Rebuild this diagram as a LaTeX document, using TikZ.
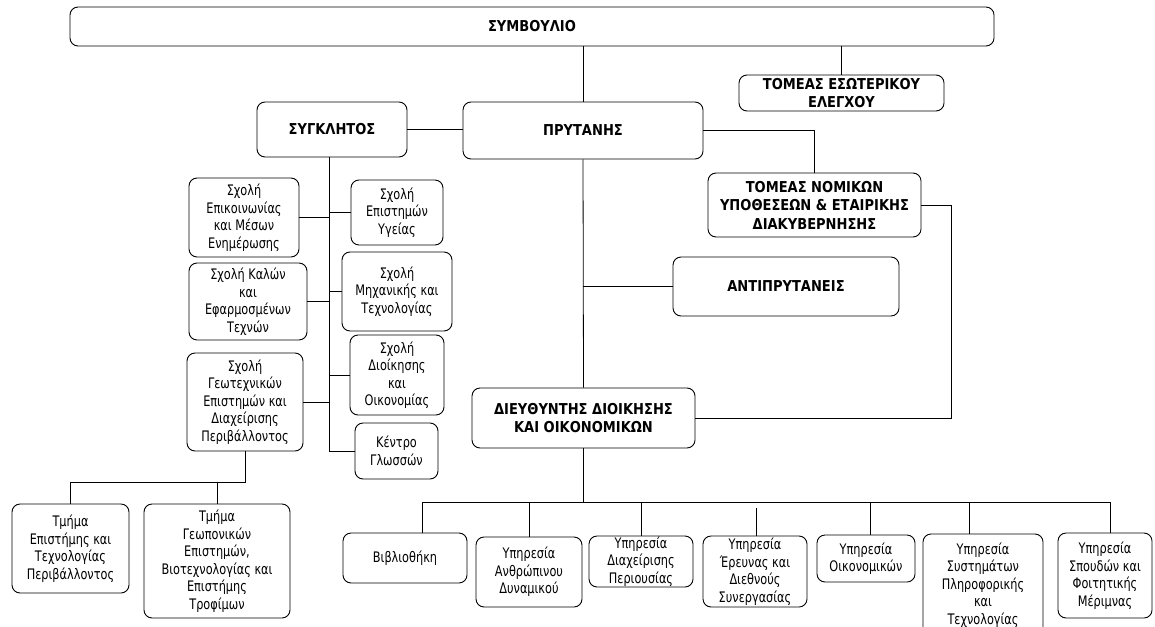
\documentclass[tikz,border=0pt]{standalone}
\usepackage{fontspec}
\setmainfont{DejaVu Sans}[FakeStretch=0.78]
\newfontfamily\hdfont{DejaVu Sans}[FakeStretch=0.87]
\begin{document}
\begin{tikzpicture}[x=1pt,y=-1pt,
  box/.style={draw=black,line width=0.9pt,rounded corners=8pt,inner sep=0pt,align=center,
    font=\fontsize{14.5}{17.5}\selectfont},
  bbox/.style={box,font=\hdfont\fontsize{15}{18.5}\selectfont\bfseries},
  conn/.style={draw=black,line width=0.8pt}]
\useasboundingbox[fill=white] (0,0) rectangle (1155,626);
% top level
\node[bbox,minimum width=924pt,minimum height=39pt] (sym) at (532,26.5) {ΣΥΜΒΟΥΛΙΟ};
\node[bbox,minimum width=205pt,minimum height=36pt] (esot) at (841.5,93) {ΤΟΜΕΑΣ ΕΣΩΤΕΡΙΚΟΥ\\ΕΛΕΓΧΟΥ};
\node[bbox,minimum width=150pt,minimum height=55pt] (synk) at (332,129.5) {ΣΥΓΚΛΗΤΟΣ};
\node[bbox,minimum width=240pt,minimum height=57pt] (pryt) at (583,130.5) {ΠΡΥΤΑΝΗΣ};
\node[bbox,minimum width=213pt,minimum height=64pt] (nom) at (814.5,205) {ΤΟΜΕΑΣ ΝΟΜΙΚΩΝ\\ΥΠΟΘΕΣΕΩΝ \& ΕΤΑΙΡΙΚΗΣ\\ΔΙΑΚΥΒΕΡΝΗΣΗΣ};
\node[bbox,minimum width=226pt,minimum height=59pt] (anti) at (786,286.5) {ΑΝΤΙΠΡΥΤΑΝΕΙΣ};
\node[bbox,minimum width=223pt,minimum height=60pt] (dieu) at (583.5,418) {ΔΙΕΥΘΥΝΤΗΣ ΔΙΟΙΚΗΣΗΣ\\ΚΑΙ ΟΙΚΟΝΟΜΙΚΩΝ};
% schools
\node[box,minimum width=110pt,minimum height=79pt] (s1) at (244,217.5) {Σχολή\\Επικοινωνίας\\και Μέσων\\Ενημέρωσης};
\node[box,minimum width=92pt,minimum height=65pt] (s2) at (397,212.5) {Σχολή\\Επιστημών\\Υγείας};
\node[box,minimum width=118pt,minimum height=77pt] (s3) at (248,301.5) {Σχολή Καλών\\και\\Εφαρμοσμένων\\Τεχνών};
\node[box,minimum width=110pt,minimum height=79pt] (s4) at (397,291.5) {Σχολή\\Μηχανικής και\\Τεχνολογίας};
\node[box,minimum width=116pt,minimum height=98pt] (s5) at (245,402) {Σχολή\\Γεωτεχνικών\\Επιστημών και\\Διαχείρισης\\Περιβάλλοντος};
\node[box,minimum width=94pt,minimum height=80pt] (s6) at (397,375) {Σχολή\\Διοίκησης\\και\\Οικονομίας};
\node[box,minimum width=83pt,minimum height=56pt] (s7) at (396.5,451) {Κέντρο\\Γλωσσών};
% departments
\node[box,minimum width=117pt,minimum height=89pt] (t1) at (70.5,548.5) {Τμήμα\\Επιστήμης και\\Τεχνολογίας\\Περιβάλλοντος};
\node[box,minimum width=146pt,minimum height=114pt] (t2) at (217,561) {Τμήμα\\Γεωπονικών\\Επιστημών,\\Βιοτεχνολογίας και\\Επιστήμης\\Τροφίμων};
% services
\node[box,minimum width=124pt,minimum height=50pt] (b1) at (405,558) {Βιβλιοθήκη};
\node[box,minimum width=106pt,minimum height=70pt] (b2) at (529,572) {Υπηρεσία\\Ανθρώπινου\\Δυναμικού};
\node[box,minimum width=104pt,minimum height=51pt] (b3) at (641,561.5) {Υπηρεσία\\Διαχείρισης\\Περιουσίας};
\node[box,minimum width=104pt,minimum height=71pt] (b4) at (755,571.5) {Υπηρεσία\\Έρευνας και\\Διεθνούς\\Συνεργασίας};
\node[box,minimum width=98pt,minimum height=47pt] (b5) at (866,558.5) {Υπηρεσία\\Οικονομικών};
\node[box,minimum width=120pt,minimum height=102pt] (b6) at (983,585) {Υπηρεσία\\Συστημάτων\\Πληροφορικής\\και\\Τεχνολογίας};
\node[box,minimum width=94pt,minimum height=85pt] (b7) at (1105,575.5) {Υπηρεσία\\Σπουδών και\\Φοιτητικής\\Μέριμνας};
% connectors top
\draw[conn] (sym.south -| pryt.north) -- (pryt.north);
\draw[conn] (esot.north |- sym.south) -- (esot.north);
\draw[conn] (synk.east) -- (synk.east -| pryt.west);
\draw[conn] (pryt.east) -| (nom.north);
\coordinate (nr) at (951,205);
\draw[conn] (nom.east) -- (nr) |- (dieu.east);
\draw[conn] (pryt.south) -- (dieu.north);
\draw[conn] (anti.west) -- (anti.west -| pryt.south);
% senate column
\coordinate (sv) at (329,157);
\draw[conn] (sv) |- (s7.west);
\draw[conn] (s1.east) -- (s1.east -| sv);
\draw[conn] (s2.west) -- (s2.west -| sv);
\draw[conn] (s3.east) -- (s3.east -| sv);
\draw[conn] (s4.west) -- (s4.west -| sv);
\draw[conn] (s5.east) -- (s5.east -| sv);
\draw[conn] (s6.west) -- (s6.west -| sv);
% departments bus
\coordinate (tb) at (245,482);
\draw[conn] (s5.south) -- (tb) -| (t1.north);
\draw[conn] (t2.north) -- (t2.north |- tb);
% services bus
\coordinate (bL) at (422,502);
\coordinate (bR) at (1110,502);
\draw[conn] (dieu.south) -- (dieu.south |- bL);
\draw[conn] (bL) -- (bR);
\draw[conn] (bL) -- (bL |- b1.north);
\draw[conn] (b2.north) -- (b2.north |- bL);
\draw[conn] (b3.north) -- (b3.north |- bL);
\coordinate (g4) at (756,508);
\draw[conn] (g4) -- (g4 |- b4.north);
\coordinate (d5) at (870,502);
\draw[conn] (d5) -- (d5 |- b5.north);
\coordinate (d6) at (969,502);
\draw[conn] (d6) -- (d6 |- b6.north);
\draw[conn] (bR) -- (bR |- b7.north);
\end{tikzpicture}
\end{document}
